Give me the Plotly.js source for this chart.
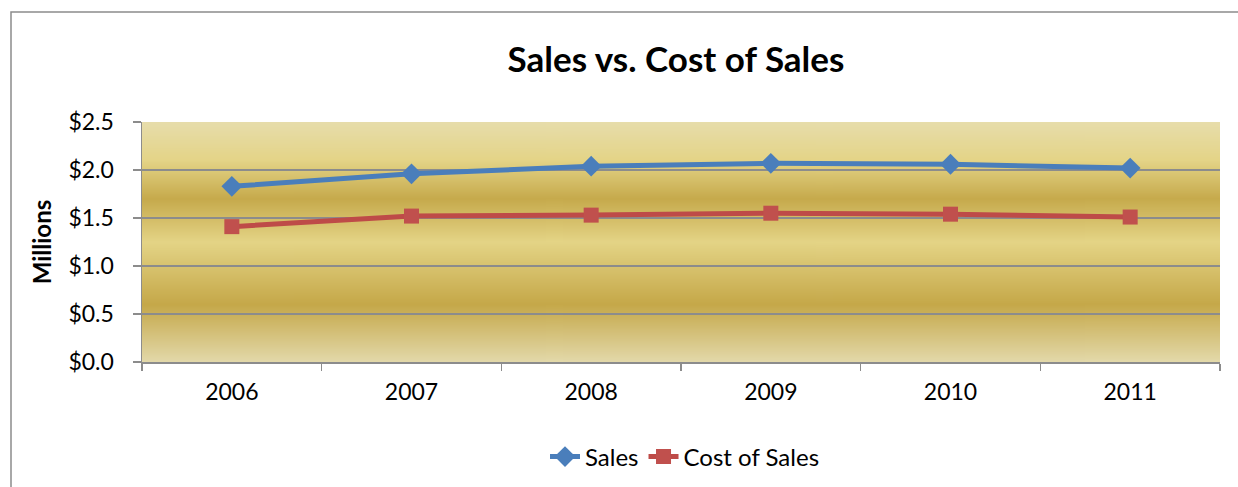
<!DOCTYPE html>
<html>
<head>
<meta charset="utf-8">
<script src="https://cdn.plot.ly/plotly-3.0.1.min.js"></script>
<style>
  html, body { margin: 0; padding: 0; background: #ffffff; }
  #chart { width: 1238px; height: 487px; }
</style>
</head>
<body>
<div id="chart"></div>
<script>
const years = ['2006', '2007', '2008', '2009', '2010', '2011'];
const sales = [1.83, 1.96, 2.04, 2.07, 2.06, 2.02];
const costOfSales = [1.41, 1.52, 1.53, 1.55, 1.54, 1.51];
const yTicks = [0, 0.5, 1.0, 1.5, 2.0, 2.5];

// gold gradient background for the plot area (drawn locally, no network)
function goldGradient() {
  const c = document.createElement('canvas');
  c.width = 4; c.height = 480;
  const g = c.getContext('2d');
  const grd = g.createLinearGradient(0, 0, 0, 480);
  grd.addColorStop(0.00, '#e7ddab');
  grd.addColorStop(0.16, '#e4d487');
  grd.addColorStop(0.32, '#c6aa4c');
  grd.addColorStop(0.50, '#e4d486');
  grd.addColorStop(0.76, '#c5a849');
  grd.addColorStop(1.00, '#e3d9aa');
  g.fillStyle = grd;
  g.fillRect(0, 0, 4, 480);
  return c.toDataURL('image/png');
}

const W = 1238, H = 487;
const M = {l: 142, r: 18, t: 122, b: 125};
const pw = W - M.l - M.r, ph = H - M.t - M.b;
const font = 'Lato, "Open Sans", sans-serif';

const traces = [
  {
    x: years, y: sales, name: 'Sales', type: 'scatter', mode: 'lines+markers',
    line: {color: '#4a7ebb', width: 5},
    marker: {symbol: 'diamond', size: 16, color: '#4a7ebb'}
  },
  {
    x: years, y: costOfSales, name: 'Cost of Sales', type: 'scatter', mode: 'lines+markers',
    line: {color: '#be4b48', width: 5},
    marker: {symbol: 'square', size: 15, color: '#c0504d'}
  }
];

const layout = {
  width: W, height: H,
  margin: M,
  paper_bgcolor: '#ffffff',
  plot_bgcolor: 'rgba(0,0,0,0)',
  showlegend: true,
  font: {family: font, color: '#000000', size: 23},
  title: {
    text: '<b>Sales vs. Cost of Sales</b>',
    font: {family: font, size: 35, color: '#000000'},
    xref: 'container', yref: 'container',
    x: 676 / W, y: 1 - 60 / H, xanchor: 'center', yanchor: 'middle'
  },
  xaxis: {
    type: 'category',
    range: [-0.5, 5.5],
    tickson: 'boundaries',
    ticks: 'outside', ticklen: 7, tickwidth: 1.5, tickcolor: '#8c8c8c',
    showline: true, linecolor: '#8c8c8c', linewidth: 1.5,
    showgrid: false, zeroline: false,
    tickfont: {family: font, size: 23, color: '#000000'},
    ticklabelstandoff: 9,
    fixedrange: true
  },
  yaxis: {
    range: [0, 2.5],
    tickvals: yTicks,
    tickformat: '$.1f',
    ticks: 'outside', ticklen: 8, tickwidth: 1.5, tickcolor: '#8c8c8c',
    showline: true, linecolor: '#8c8c8c', linewidth: 1.5,
    showgrid: true, gridcolor: '#8c8c8c', gridwidth: 1.5,
    zeroline: false,
    tickfont: {family: font, size: 23, color: '#000000'},
    ticklabelstandoff: 14,
    title: {text: '<b>Millions</b>', font: {family: font, size: 24, color: '#000000'}, standoff: 10},
    fixedrange: true
  },
  legend: {
    orientation: 'h',
    x: 685 / W, xref: 'container', xanchor: 'center',
    y: 1 - 457 / H, yref: 'container', yanchor: 'middle',
    font: {family: font, size: 24, color: '#000000'},
    itemwidth: 30,
    traceorder: 'normal'
  },
  images: [{
    source: goldGradient(),
    xref: 'paper', yref: 'paper',
    x: 0, y: 1, sizex: 1, sizey: 1,
    xanchor: 'left', yanchor: 'top',
    sizing: 'stretch', layer: 'below'
  }],
  shapes: [{
    type: 'rect', xref: 'paper', yref: 'paper',
    x0: (11 - M.l) / pw, x1: (W + 20 - M.l) / pw,
    y0: (H - M.b - (H + 20)) / ph, y1: (H - M.b - 12) / ph,
    line: {color: '#8c8c8c', width: 1.5},
    fillcolor: 'rgba(0,0,0,0)',
    layer: 'above'
  }]
};

Plotly.newPlot('chart', traces, layout, {displayModeBar: false, staticPlot: true});
</script>
</body>
</html>
